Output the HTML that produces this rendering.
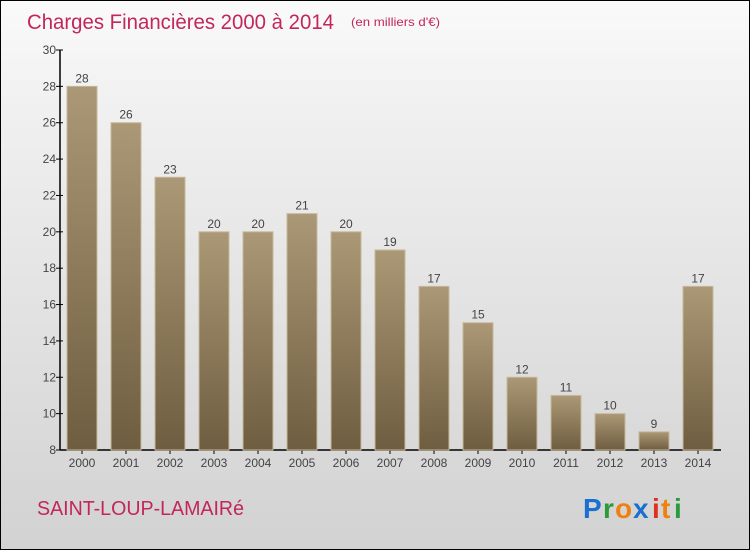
<!DOCTYPE html>
<html><head><meta charset="utf-8"><style>
body{margin:0;}
#wrap{position:relative;width:748px;height:548px;border:1px solid #000;background:linear-gradient(#fafafa,#f0f0f0 20%,#d2d2d2);font-family:"Liberation Sans",sans-serif;overflow:hidden}
</style></head><body>
<div id="wrap">
<svg width="748" height="548">
<defs><linearGradient id="bg" x1="0" y1="0" x2="0" y2="1"><stop offset="0" stop-color="#ab9876"/><stop offset="1" stop-color="#6e5d40"/></linearGradient></defs>
<text x="26" y="28" font-size="21" fill="#c2265c" textLength="307" lengthAdjust="spacingAndGlyphs">Charges Financières 2000 à 2014</text>
<text x="350" y="25" font-size="12" fill="#c2265c" textLength="89" lengthAdjust="spacingAndGlyphs">(en milliers d'€)</text>
<g id="axes"></g><g id="bars"></g>
<text x="36" y="514" font-size="20" fill="#c2265c" textLength="207" lengthAdjust="spacingAndGlyphs">SAINT-LOUP-LAMAIRé</text>
<g font-size="28" font-weight="bold">
<text x="582" y="517" fill="#1a6fd0">P</text><text x="602" y="517" fill="#2a9a3a">r</text><text x="614" y="517" fill="#f08010">o</text><text x="632" y="517" fill="#1a6fd0">x</text><text x="651" y="517" fill="#e03020">i</text><text x="660" y="517" fill="#f08010">t</text><text x="673" y="517" fill="#2a9a3a">i</text>
</g>
</svg></div>
<script>
const years=["2000","2001","2002","2003","2004","2005","2006","2007","2008","2009","2010","2011","2012","2013","2014"];
const values=[28,26,23,20,20,21,20,19,17,15,12,11,10,9,17];
const ticks=[8,10,12,14,16,18,20,22,24,26,28,30];
const NS="http://www.w3.org/2000/svg";
const y=v=>449-(v-8)*(400/22);
const x=i=>81+i*44;
function mk(t,a,p){const e=document.createElementNS(NS,t);for(const k in a)e.setAttribute(k,a[k]);p.appendChild(e);return e;}
const ax=document.getElementById('axes'),bs=document.getElementById('bars');
const yl=mk('line',{x1:59,x2:59,y1:49,y2:449,stroke:'#000','stroke-width':1.5},ax);


const xl=mk('line',{x1:59,x2:720,y1:449,y2:449,stroke:'#000','stroke-width':1.5},ax);


ticks.forEach(t=>{mk('line',{x1:55,x2:62,y1:y(t),y2:y(t),stroke:'#000'},ax);
const tx=mk('text',{x:55,y:y(t)+4,'font-size':12,fill:'#444','text-anchor':'end'},ax);tx.textContent=t;

});
years.forEach((yr,i)=>{
const r=mk('rect',{x:x(i)-15,y:y(values[i]),width:30,height:449-y(values[i]),fill:'url(#bg)',stroke:'#c8b898','stroke-width':1},bs);


const v=mk('text',{x:x(i),y:y(values[i])-4,'font-size':12,fill:'#444','text-anchor':'middle'},bs);v.textContent=values[i];


mk('line',{x1:x(i),x2:x(i),y1:449,y2:453,stroke:'#000'},ax);
const l=mk('text',{x:x(i),y:466,'font-size':12,fill:'#444','text-anchor':'middle'},ax);l.textContent=yr;


});
</script>
</body></html>
